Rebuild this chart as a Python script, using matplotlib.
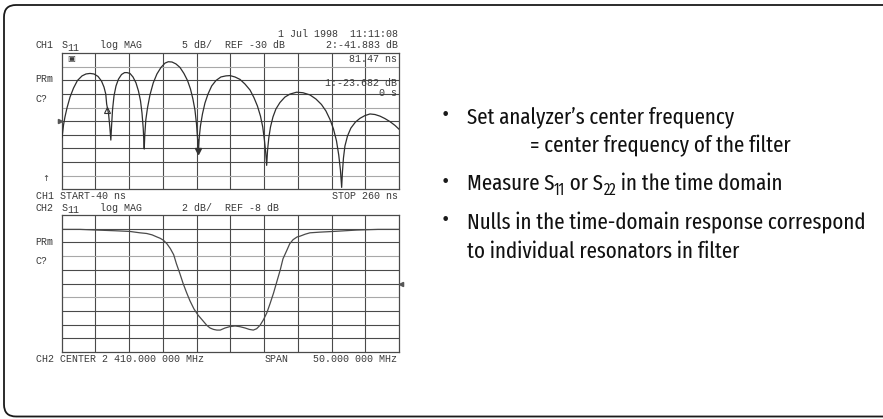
import os
import matplotlib
matplotlib.use("Agg")
import matplotlib.pyplot as plt
from matplotlib import font_manager
from matplotlib.font_manager import FontProperties
from matplotlib.patches import FancyBboxPatch
from matplotlib.transforms import offset_copy, IdentityTransform

# ---------------- data ----------------
# CH1: S11 time-domain response (ns, dB)
ch1_start, ch1_stop = -40.0, 260.0
ch1_ref, ch1_scale = -30.0, 5.0
ch1_t = [-39.7, -38.4, -37.1, -35.3, -32.6, -29.5, -26.0, -21.9, -18.4, -14.8, -11.3, -7.7, -4.6, -2.4, -0.8, 0.0, 1.7, 2.8, 3.7,
         4.3, 5.2, 6.5, 8.3, 10.5, 13.2, 15.9, 18.1, 20.7, 23.4, 26.1, 28.3, 30.1, 31.4, 32.5, 33.4,
         33.9, 34.8, 36.3, 38.5, 41.4, 44.7, 48.3, 51.9, 54.8, 58.1, 61.6, 65.2, 68.7, 71.9, 74.5, 76.7, 78.5, 79.9, 80.8, 81.5,
         82.3, 83.4, 85.2, 87.4, 90.1, 93.4, 97.2, 101.6, 106.1, 109.7, 114.1, 118.6, 123.0, 127.5, 131.0, 134.1, 136.8, 138.8, 140.3, 141.5, 142.3,
         143.1, 144.2, 145.7, 147.9, 150.5, 154.1, 158.5, 163.0, 168.9, 174.6, 180.8, 186.1, 191.0, 195.0, 198.6, 201.7, 204.4, 206.4, 207.9, 209.0,
         209.7, 210.6, 211.9, 214.2, 217.2, 221.2, 225.3, 229.7, 234.2, 238.6, 243.1, 247.5, 251.9, 256.4, 260.0]
ch1_db = [-36.0, -31.4, -28.4, -25.1, -21.1, -17.8, -15.0, -13.3, -12.6, -12.4, -12.6, -13.5, -15.2, -17.4, -20.0, -23.7, -27.3, -32.1, -36.9,
          -32.1, -25.8, -20.7, -17.0, -14.5, -12.8, -12.1, -12.1, -12.4, -13.7, -15.9, -18.9, -22.5, -26.9, -32.5, -40.2,
          -35.0, -29.5, -25.1, -20.3, -15.9, -12.6, -10.2, -8.6, -8.1, -8.2, -8.9, -10.2, -12.4, -15.0, -18.1, -21.8, -25.8, -31.0, -36.1, -41.9,
          -36.1, -31.7, -27.3, -23.3, -20.0, -17.0, -15.0, -13.7, -13.3, -13.2, -13.7, -14.6, -16.3, -18.5, -21.3, -24.4, -28.1, -32.1, -36.9, -41.7, -46.2,
          -40.6, -36.1, -32.1, -28.4, -25.5, -23.1, -21.1, -20.0, -19.3, -19.5, -20.3, -21.8, -23.8, -26.2, -29.3, -32.8, -37.2, -42.4, -47.9, -54.3,
          -48.6, -43.5, -39.1, -35.4, -32.5, -30.3, -28.9, -27.9, -27.3, -27.5, -28.1, -29.0, -30.1, -31.5, -32.9]
marker_t = [0.0, 81.47]
marker_db = [-23.682, -41.883]

# CH2: S11 frequency response (MHz, dB)
ch2_center, ch2_span = 2410.0, 50.0
ch2_ref, ch2_scale = -8.0, 2.0
ch2_f = [2385.0, 2387.7, 2390.2, 2392.9, 2395.1, 2396.6, 2397.6, 2398.4, 2399.1, 2399.6, 2400.1, 2400.6, 2401.1,
         2401.6, 2402.0, 2402.5, 2403.0, 2403.5, 2404.0, 2404.6, 2405.2, 2405.9, 2406.5, 2407.0, 2407.5, 2408.0,
         2408.5, 2409.2, 2409.9, 2410.7, 2411.4, 2412.2, 2412.8, 2413.4, 2413.9, 2414.4, 2414.9, 2415.4, 2415.9,
         2416.4, 2416.9, 2417.4, 2417.8, 2418.4, 2418.8, 2419.3, 2419.9, 2420.3, 2421.1, 2421.8, 2423.3, 2425.3,
         2428.7, 2431.9, 2435.0]
ch2_db = [-0.1, -0.1, -0.2, -0.3, -0.4, -0.6, -0.7, -0.9, -1.2, -1.4, -1.7, -2.2, -2.9, -3.8, -5.1, -6.5, -8.0,
          -9.3, -10.5, -11.7, -12.6, -13.4, -14.1, -14.5, -14.7, -14.8, -14.8, -14.5, -14.3, -14.2, -14.3, -14.5,
          -14.7, -14.8, -14.6, -14.1, -13.3, -12.3, -10.9, -9.4, -7.7, -6.0, -4.4, -3.1, -2.2, -1.6, -1.2, -1.1,
          -0.8, -0.6, -0.5, -0.4, -0.2, -0.1, -0.1]

# bullet lines: list of (text, is_subscript) runs
bullet_lines = [
    [("Set analyzer\u2019s center frequency", False)],
    [("= center frequency of the filter", False)],
    [("Measure S", False), ("11", True), (" or S", False), ("22", True), (" in the time domain", False)],
    [("Nulls in the time-domain response correspond", False)],
    [("to individual resonators in filter", False)],
]

# ---------------- layout helpers ----------------
W, H = 883, 419
fig = plt.figure(figsize=(W / 100, H / 100), dpi=100)
fig.patch.set_facecolor("white")


def fx(x):
    return x / W


def fy(y):
    return 1 - y / H


def first_family(cands, default):
    for c in cands:
        try:
            font_manager.findfont(FontProperties(family=c), fallback_to_default=False)
            return c
        except Exception:
            pass
    return default


def condensed_font():
    """Pick an upright, regular-weight condensed sans face if one is installed."""
    bad = ("bold", "italic", "oblique", "light", "thin", "black", "semi", "ultra", "heavy", "mono",
           "extra", "medium")
    scored = []
    for f in font_manager.fontManager.ttflist:
        fn = os.path.basename(f.fname).lower().replace("-", "").replace("_", "")
        if "extracondensed" in fn:
            width_rank = 0
            rest = fn.replace("extracondensed", "")
        elif "condensed" in fn and "semicondensed" not in fn:
            width_rank = 1
            rest = fn.replace("condensed", "")
        elif "narrow" in fn:
            width_rank = 1
            rest = fn.replace("narrow", "")
        else:
            continue
        if any(b in rest for b in bad):
            continue
        sans_rank = 0 if "sans" in fn else 1
        scored.append((width_rank, sans_rank, f.fname))
    if scored:
        scored.sort()
        return FontProperties(fname=scored[0][2])
    return FontProperties(family="DejaVu Sans")


mono = first_family(["Liberation Mono", "DejaVu Sans Mono"], "DejaVu Sans Mono")
narrow_fp = condensed_font()

INK = "#3a3a3a"
DARK = "#4a4a4a"
LIGHT = "#a8a8a8"

# rounded frame (pixel coordinates, origin bottom-left)
frame = FancyBboxPatch((4, H - 416.5), 960, 411.5, boxstyle="round,pad=0,rounding_size=12",
                       transform=IdentityTransform(), facecolor="none", edgecolor="#1a1a1a", linewidth=1.3)
fig.patches.append(frame)


def screen(ax, x0, x1, ylo, yhi, row_shades):
    ax.set_xlim(x0, x1)
    ax.set_ylim(ylo, yhi)
    ax.set_xticks([])
    ax.set_yticks([])
    for s in ax.spines.values():
        s.set_color(DARK)
        s.set_linewidth(0.9)
    for i in range(1, 10):
        ax.axvline(x0 + i * (x1 - x0) / 10, color=DARK, lw=0.8, zorder=1)
    for i, shade in enumerate(row_shades, start=1):
        ax.axhline(yhi - i * (yhi - ylo) / 10, color=shade, lw=0.8, zorder=1)


# ---------------- CH1 ----------------
ax1 = fig.add_axes([fx(61.7), fy(189.3), fx(399) - fx(61.7), fy(53.3) - fy(189.3)])
screen(ax1, ch1_start, ch1_stop, ch1_ref - 5 * ch1_scale, ch1_ref + 5 * ch1_scale,
       [LIGHT, DARK, DARK, LIGHT, DARK, DARK, DARK, DARK, LIGHT])
ax1.plot(ch1_t, ch1_db, color="#2e2e2e", lw=0.9, zorder=3)
ax1.plot([marker_t[0]], [marker_db[0]], marker="^", ms=5, mfc="none", mec="#333333", mew=0.8,
         transform=offset_copy(ax1.transData, fig=fig, y=-6, units="dots"), zorder=4)
ax1.plot([marker_t[1]], [marker_db[1]], marker="|", ms=9, mec="#333333", mew=1.4,
         transform=offset_copy(ax1.transData, fig=fig, y=9, units="dots"), zorder=4)
ax1.plot([marker_t[1]], [marker_db[1]], marker="v", ms=4.5, color="#333333",
         transform=offset_copy(ax1.transData, fig=fig, y=3, units="dots"), zorder=4)
ax1.plot([ch1_start], [ch1_ref], marker=">", ms=3, color="#555555", clip_on=False, zorder=4,
         transform=offset_copy(ax1.transData, fig=fig, x=-2, units="dots"))

# ---------------- CH2 ----------------
ax2 = fig.add_axes([fx(61.7), fy(352), fx(399) - fx(61.7), fy(215) - fy(352)])
f0, f1 = ch2_center - ch2_span / 2, ch2_center + ch2_span / 2
screen(ax2, f0, f1, ch2_ref - 5 * ch2_scale, ch2_ref + 5 * ch2_scale,
       [DARK, DARK, LIGHT, DARK, DARK, LIGHT, DARK, DARK, DARK])
ax2.plot(ch2_f, ch2_db, color="#4a4a4a", lw=0.9, zorder=3)
ax2.plot([f1], [ch2_ref], marker="<", ms=3, color="#555555", clip_on=False, zorder=4,
         transform=offset_copy(ax2.transData, fig=fig, x=2, units="dots"))

# ---------------- instrument annotations ----------------
MS = 7.2


def mtext(x, y, s, ha="left", size=MS, family=None):
    fig.text(fx(x), fy(y), s, ha=ha, va="baseline", fontsize=size, color=INK,
             family=family or mono)


mtext(398, 37, "1 Jul 1998  11:11:08", ha="right")
mtext(35.5, 48.5, "CH1")
mtext(61.5, 48.5, "S")
mtext(67.5, 51, "11")
mtext(100, 48.5, "log MAG")
mtext(181.5, 48.5, "5 dB/")
mtext(225, 48.5, "REF -30 dB")
mtext(398, 48.5, "2:-41.883 dB", ha="right")

mtext(397, 62.5, "81.47 ns", ha="right")
mtext(397, 85.5, "1:-23.682 dB", ha="right")
mtext(397, 95.5, "0 s", ha="right")
fig.text(fx(67.5), fy(61.5), "\u25a3", ha="left", va="baseline", fontsize=6, color=INK, family="DejaVu Sans")

mtext(35.5, 82.5, "PRm")
mtext(35.5, 102.5, "C?")
mtext(42, 181, "\u2191", family="DejaVu Sans", size=6)

mtext(35.5, 199, "CH1 START-40 ns")
mtext(398, 199, "STOP 260 ns", ha="right")

mtext(35.5, 210.5, "CH2")
mtext(61.5, 210.5, "S")
mtext(67.5, 213, "11")
mtext(100, 210.5, "log MAG")
mtext(181.5, 210.5, "2 dB/")
mtext(225, 210.5, "REF -8 dB")

mtext(35.5, 244.5, "PRm")
mtext(35.5, 264.5, "C?")

mtext(35.5, 362, "CH2 CENTER 2 410.000 000 MHz")
mtext(265, 362, "SPAN")
mtext(397, 362, "50.000 000 MHz", ha="right")

# ---------------- bullet text ----------------
renderer = fig.canvas.get_renderer()
probe = fig.text(0, 0, bullet_lines[3][0][0], fontproperties=narrow_fp)
probe.set_fontsize(16)
probe_w = probe.get_window_extent(renderer).width
probe.remove()
bsize = 16 * 400.0 / probe_w

text_x = [466.7, 530.0, 466.7, 466.7, 466.7]
text_y = [123.3, 152.7, 190.0, 228.3, 258.3]
has_bullet = [True, False, True, True, False]
for runs, x, y, b in zip(bullet_lines, text_x, text_y, has_bullet):
    cx = x
    for s, sub in runs:
        t = fig.text(fx(cx), fy(y + (5 if sub else 0)), s, ha="left", va="baseline",
                     fontproperties=narrow_fp, color="#111111")
        t.set_fontsize(bsize * (0.7 if sub else 1.0))
        cx += t.get_window_extent(renderer).width
    if b:
        fig.text(fx(445), fy(y - 7.5), "\u2022", ha="center", va="center", fontsize=bsize * 0.7,
                 color="#1a1a1a", family="DejaVu Sans")

fig.savefig("out.png", dpi=100, facecolor="white")
